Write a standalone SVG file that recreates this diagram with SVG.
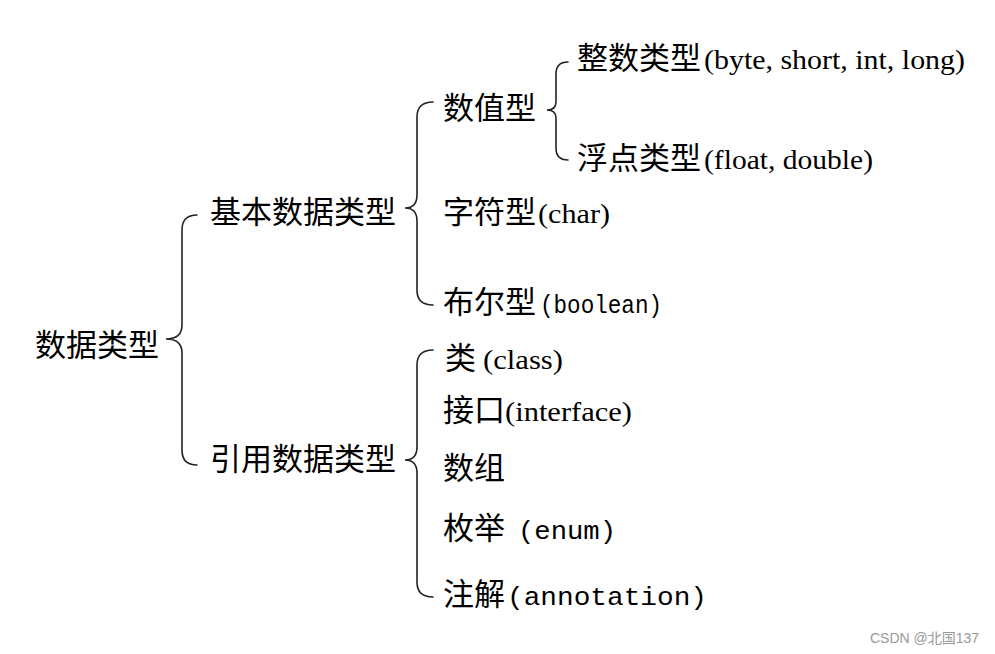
<svg xmlns="http://www.w3.org/2000/svg" width="995" height="654" viewBox="0 0 995 654">
<style>
.cjk{font-family:"Noto Sans CJK SC","Liberation Serif",sans-serif;font-size:31px;fill:#000}
.lat{font-family:"Liberation Serif","Noto Sans CJK SC",serif;font-size:27px}
.mono{font-family:"Liberation Mono","Noto Sans CJK SC",monospace;font-size:26px}
.brace{fill:none;stroke:#222;stroke-width:1.6;stroke-linecap:round}
.wm{font-family:"Liberation Sans","Noto Sans CJK SC",sans-serif;font-size:14px;fill:#999}
</style>
<rect width="995" height="654" fill="#fff"/>
<g id="connectors">
<path class="brace" d="M197,215 Q182,215 182,230 L182,325 Q182,339 166,339 Q182,339 182,353 L182,450 Q182,465 197,465"/>
<path class="brace" d="M433,102 Q417,102 417,117 L417,195 Q417,208 405,208 Q417,208 417,221 L417,290 Q417,305 433,305"/>
<path class="brace" d="M433,350 Q417,350 417,365 L417,447 Q417,460 405,460 Q417,460 417,473 L417,582 Q417,597 433,597"/>
<path class="brace" d="M568,62 Q556,62 556,74 L556,102 Q556,110 547,110 Q556,110 556,118 L556,148 Q556,160 568,160"/>
</g>
<g id="n-root"><text class="cjk" x="35" y="356">数据类型</text></g>
<g id="n-basic"><text class="cjk" x="210" y="223">基本数据类型</text></g>
<g id="n-ref"><text class="cjk" x="210" y="470">引用数据类型</text></g>
<g id="n-num"><text class="cjk" x="443" y="119">数值型</text></g>
<g id="n-int"><text class="cjk" x="577" y="69">整数类型<tspan class="lat" x="704" textLength="261" lengthAdjust="spacingAndGlyphs">(byte, short, int, long)</tspan></text></g>
<g id="n-float"><text class="cjk" x="577" y="169">浮点类型<tspan class="lat" x="704" textLength="169" lengthAdjust="spacingAndGlyphs">(float, double)</tspan></text></g>
<g id="n-char"><text class="cjk" x="443" y="223">字符型<tspan class="lat" x="538" textLength="72" lengthAdjust="spacingAndGlyphs">(char)</tspan></text></g>
<g id="n-bool"><text class="cjk" x="443" y="313">布尔型<tspan class="mono" x="540" textLength="122" lengthAdjust="spacingAndGlyphs">(boolean)</tspan></text></g>
<g id="n-class"><text class="cjk" x="445" y="369">类<tspan class="lat" x="483" textLength="80" lengthAdjust="spacingAndGlyphs">(class)</tspan></text></g>
<g id="n-iface"><text class="cjk" x="443" y="421">接口<tspan class="lat" x="505" textLength="127" lengthAdjust="spacingAndGlyphs">(interface)</tspan></text></g>
<g id="n-array"><text class="cjk" x="443" y="479">数组</text></g>
<g id="n-enum"><text class="cjk" x="443" y="539">枚举<tspan class="mono" x="518" textLength="98" lengthAdjust="spacingAndGlyphs">(enum)</tspan></text></g>
<g id="n-anno"><text class="cjk" x="443" y="605">注解<tspan class="mono" x="507" textLength="200" lengthAdjust="spacingAndGlyphs">(annotation)</tspan></text></g>
<text class="wm" x="870" y="643">CSDN @北国137</text>
</svg>
